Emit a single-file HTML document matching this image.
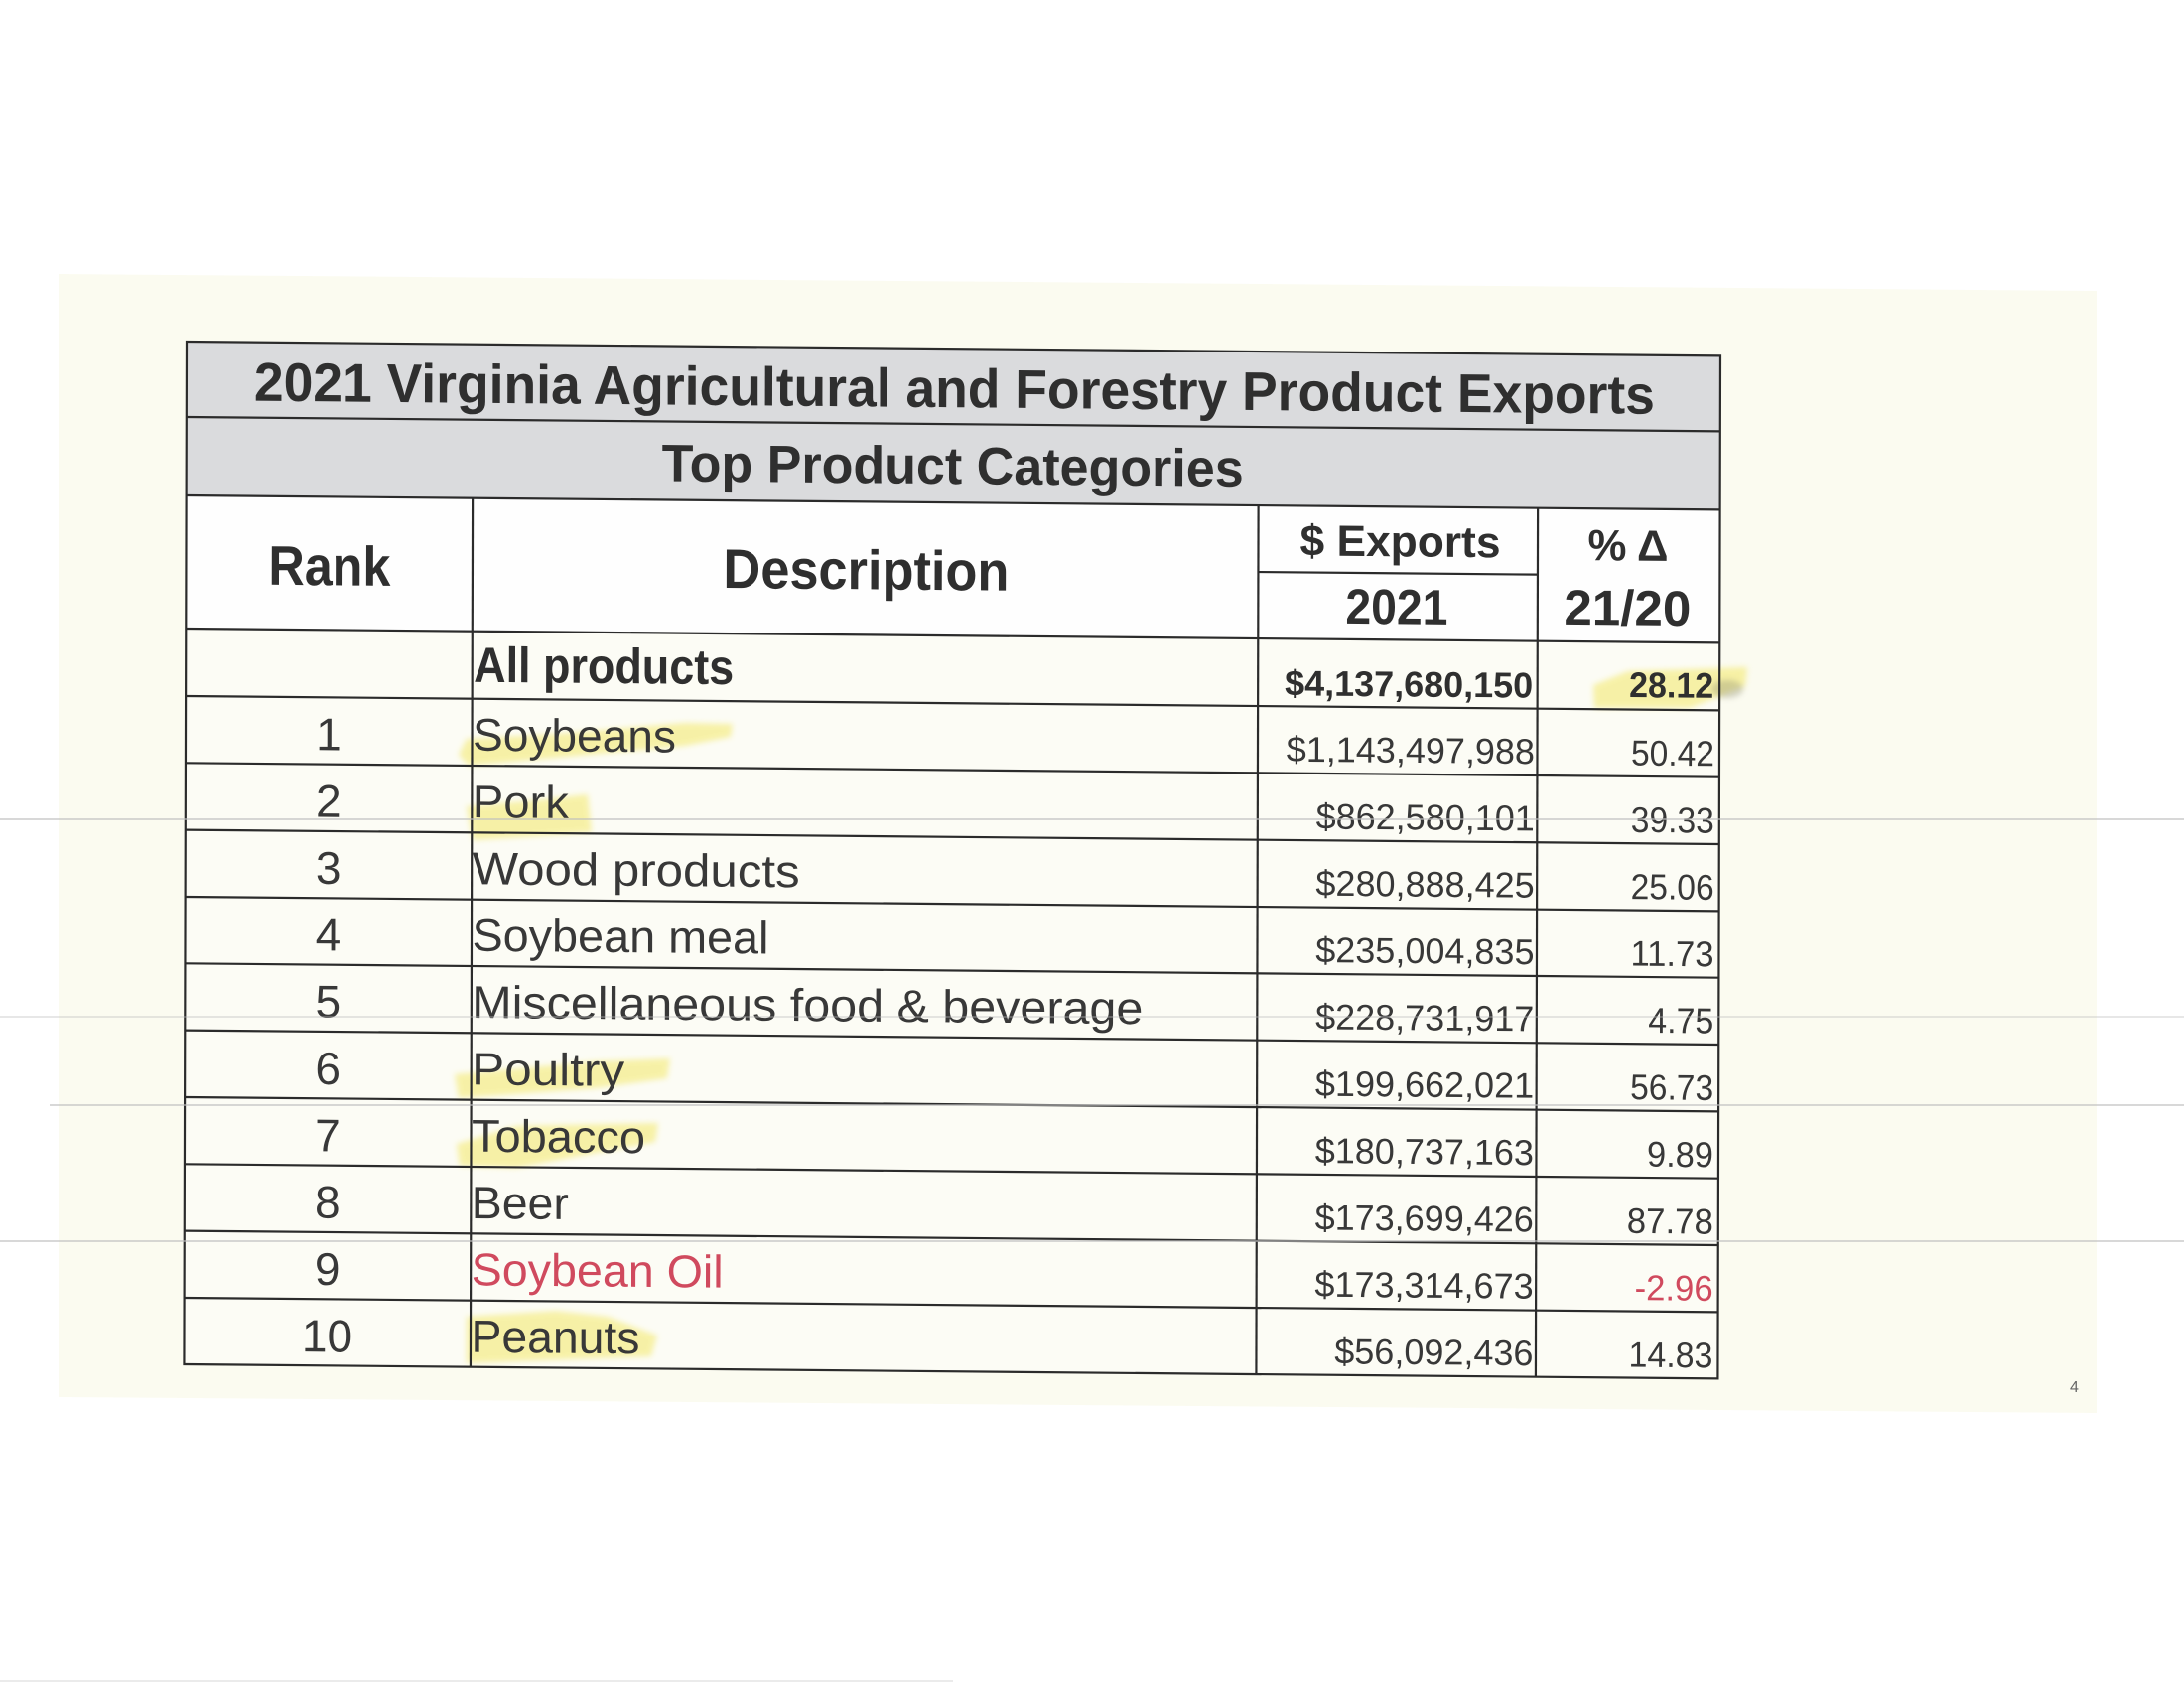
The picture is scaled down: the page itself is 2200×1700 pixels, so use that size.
<!DOCTYPE html>
<html>
<head>
<meta charset="utf-8">
<style>
html,body{margin:0;padding:0;background:#ffffff;}
svg{display:block;}
text{font-family:"Liberation Sans",Arial,sans-serif;}
</style>
</head>
<body>
<svg width="2200" height="1700" viewBox="0 0 2200 1700" xmlns="http://www.w3.org/2000/svg">
<defs>
<filter id="blur" x="-20%" y="-50%" width="140%" height="200%"><feGaussianBlur stdDeviation="3"/></filter>
</defs>
<!-- page -->
<rect x="0" y="0" width="2200" height="1700" fill="#ffffff"/>
<polygon points="59,276 2112,293 2112,1423 59,1407" fill="#fbfbf0"/>

<!-- table backgrounds (sheared) -->
<g transform="matrix(1,0.0093,-0.0025,1,0.86,-1.75)">
  <rect x="188" y="344" width="1545" height="155" fill="#dadbdd"/>
  <rect x="188" y="499" width="1545" height="134" fill="#fefefe"/>
  <rect x="188" y="633" width="1545" height="741" fill="#fcfcf5"/>
</g>

<!-- highlighter strokes -->
<g fill="#f2e65a" opacity="0.5" filter="url(#blur)">
  <polygon points="462,760 470,744 560,739 690,728 738,729 736,742 690,751 560,763 472,771"/>
  <polygon points="470,812 540,806 592,800 596,838 540,842 476,846"/>
  <polygon points="458,1082 600,1069 675,1066 672,1086 600,1096 462,1106"/>
  <polygon points="460,1152 520,1134 663,1131 660,1150 520,1176 463,1174"/>
  <polygon points="470,1326 560,1320 612,1326 662,1345 656,1366 470,1373"/>
  <polygon points="1605,690 1640,676 1760,672 1758,691 1702,713 1606,713"/>
</g>
<ellipse cx="1740" cy="694" rx="16" ry="9" fill="#8a8a70" opacity="0.35" filter="url(#blur)"/>

<!-- table lines and text (sheared) -->
<g transform="matrix(1,0.0093,-0.0025,1,0.86,-1.75)">
  <g stroke="#2b2b2b" stroke-width="2.2" fill="none">
    <rect x="188" y="344" width="1545" height="1030"/>
    <line x1="188" y1="420" x2="1733" y2="420"/>
    <line x1="188" y1="499" x2="1733" y2="499"/>
    <line x1="188" y1="633" x2="1733" y2="633"/>
    <line x1="1268" y1="566" x2="1549.5" y2="566"/>
    <line x1="476.5" y1="499" x2="476.5" y2="1374"/>
    <line x1="1268" y1="499" x2="1268" y2="1374"/>
    <line x1="1549.5" y1="499" x2="1549.5" y2="1374"/>
    <line x1="188" y1="701" x2="1733" y2="701"/>
    <line x1="188" y1="768.3" x2="1733" y2="768.3"/>
    <line x1="188" y1="835.6" x2="1733" y2="835.6"/>
    <line x1="188" y1="903" x2="1733" y2="903"/>
    <line x1="188" y1="970.3" x2="1733" y2="970.3"/>
    <line x1="188" y1="1037.6" x2="1733" y2="1037.6"/>
    <line x1="188" y1="1105" x2="1733" y2="1105"/>
    <line x1="188" y1="1172.3" x2="1733" y2="1172.3"/>
    <line x1="188" y1="1239.6" x2="1733" y2="1239.6"/>
    <line x1="188" y1="1307" x2="1733" y2="1307"/>
  </g>

  <!-- titles -->
  <g fill="#2f2f2f" font-weight="bold">
    <text x="256" y="403" font-size="55" textLength="1411" lengthAdjust="spacingAndGlyphs">2021 Virginia Agricultural and Forestry Product Exports</text>
    <text x="667" y="480" font-size="53" textLength="586" lengthAdjust="spacingAndGlyphs">Top Product Categories</text>
    <text x="271" y="588" font-size="56" textLength="123" lengthAdjust="spacingAndGlyphs">Rank</text>
    <text x="729" y="587" font-size="56" textLength="288" lengthAdjust="spacingAndGlyphs">Description</text>
    <text x="1310" y="549" font-size="44" textLength="202" lengthAdjust="spacingAndGlyphs">$ Exports</text>
    <text x="1600" y="551" font-size="44" textLength="81" lengthAdjust="spacingAndGlyphs">% Δ</text>
    <text x="1356" y="617" font-size="50" textLength="103" lengthAdjust="spacingAndGlyphs">2021</text>
    <text x="1576" y="616" font-size="50" textLength="128" lengthAdjust="spacingAndGlyphs">21/20</text>
    <text x="478" y="684" font-size="50" textLength="262" lengthAdjust="spacingAndGlyphs">All products</text>
    <text x="1295" y="690" font-size="36" textLength="250" lengthAdjust="spacingAndGlyphs">$4,137,680,150</text>
    <text x="1642" y="688.5" font-size="36" textLength="85" lengthAdjust="spacingAndGlyphs">28.12</text>
  </g>

  <!-- body rows -->
  <g fill="#383838" font-size="46">
    <text x="332" y="754" text-anchor="middle">1</text>
    <text x="332" y="821.3" text-anchor="middle">2</text>
    <text x="332" y="888.6" text-anchor="middle">3</text>
    <text x="332" y="956" text-anchor="middle">4</text>
    <text x="332" y="1023.3" text-anchor="middle">5</text>
    <text x="332" y="1090.6" text-anchor="middle">6</text>
    <text x="332" y="1158" text-anchor="middle">7</text>
    <text x="332" y="1225.3" text-anchor="middle">8</text>
    <text x="332" y="1292.6" text-anchor="middle">9</text>
    <text x="332" y="1360" text-anchor="middle">10</text>

    <text x="477" y="753" textLength="205" lengthAdjust="spacingAndGlyphs">Soybeans</text>
    <text x="477" y="820.3" textLength="97" lengthAdjust="spacingAndGlyphs">Pork</text>
    <text x="477" y="887.6" textLength="330" lengthAdjust="spacingAndGlyphs">Wood products</text>
    <text x="477" y="955" textLength="299" lengthAdjust="spacingAndGlyphs">Soybean meal</text>
    <text x="477" y="1022.3" textLength="676" lengthAdjust="spacingAndGlyphs">Miscellaneous food &amp; beverage</text>
    <text x="477" y="1089.6" textLength="154" lengthAdjust="spacingAndGlyphs">Poultry</text>
    <text x="477" y="1157" textLength="175" lengthAdjust="spacingAndGlyphs">Tobacco</text>
    <text x="477" y="1224.3" textLength="98" lengthAdjust="spacingAndGlyphs">Beer</text>
    <text x="477" y="1291.6" textLength="254" lengthAdjust="spacingAndGlyphs" fill="#d04a5e">Soybean Oil</text>
    <text x="477" y="1359" textLength="170" lengthAdjust="spacingAndGlyphs">Peanuts</text>
  </g>

  <g fill="#383838" font-size="36">
    <text x="1547" y="756.5" text-anchor="end">$1,143,497,988</text>
    <text x="1547" y="823.8" text-anchor="end">$862,580,101</text>
    <text x="1547" y="891.1" text-anchor="end">$280,888,425</text>
    <text x="1547" y="958.5" text-anchor="end">$235,004,835</text>
    <text x="1547" y="1025.8" text-anchor="end">$228,731,917</text>
    <text x="1547" y="1093.1" text-anchor="end">$199,662,021</text>
    <text x="1547" y="1160.5" text-anchor="end">$180,737,163</text>
    <text x="1547" y="1227.8" text-anchor="end">$173,699,426</text>
    <text x="1547" y="1295.1" text-anchor="end">$173,314,673</text>
    <text x="1547" y="1362.5" text-anchor="end">$56,092,436</text>

    <text x="1644" y="757" textLength="84" lengthAdjust="spacingAndGlyphs">50.42</text>
    <text x="1644" y="824.3" textLength="84" lengthAdjust="spacingAndGlyphs">39.33</text>
    <text x="1644" y="891.6" textLength="84" lengthAdjust="spacingAndGlyphs">25.06</text>
    <text x="1644" y="959" textLength="84" lengthAdjust="spacingAndGlyphs">11.73</text>
    <text x="1662" y="1026.3" textLength="66" lengthAdjust="spacingAndGlyphs">4.75</text>
    <text x="1644" y="1093.6" textLength="84" lengthAdjust="spacingAndGlyphs">56.73</text>
    <text x="1661" y="1161" textLength="67" lengthAdjust="spacingAndGlyphs">9.89</text>
    <text x="1641" y="1228.3" textLength="87" lengthAdjust="spacingAndGlyphs">87.78</text>
    <text x="1649" y="1295.6" textLength="79" lengthAdjust="spacingAndGlyphs" fill="#d04a5e">-2.96</text>
    <text x="1643" y="1363" textLength="85" lengthAdjust="spacingAndGlyphs">14.83</text>
  </g>
</g>

<!-- scanner artifacts -->
<g stroke="#bdbdbd" stroke-width="1.5" opacity="0.8">
  <line x1="0" y1="825" x2="2200" y2="825"/>
  <line x1="0" y1="1024" x2="2200" y2="1024" opacity="0.6"/>
  <line x1="50" y1="1113" x2="2200" y2="1113"/>
  <line x1="0" y1="1250" x2="2200" y2="1250"/>
  <line x1="0" y1="1693" x2="960" y2="1693" opacity="0.5"/>
</g>

<!-- page number -->
<text x="2085" y="1402" font-size="16" fill="#666666">4</text>
</svg>
</body>
</html>
